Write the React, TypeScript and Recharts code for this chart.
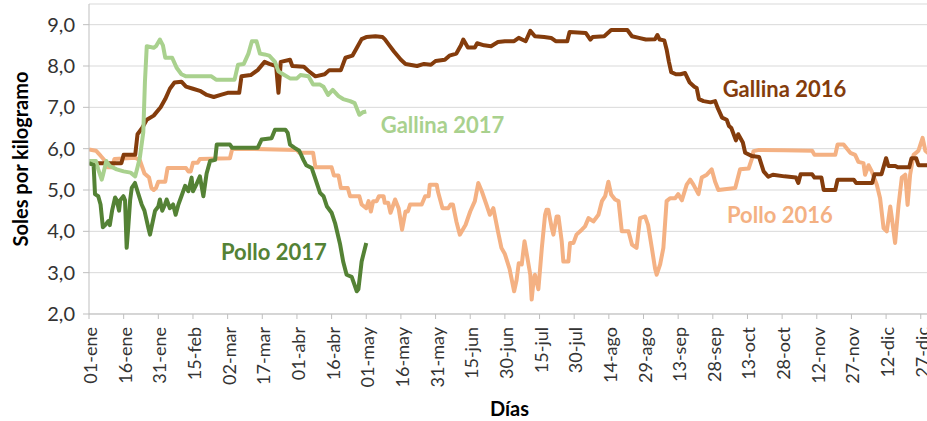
import React from "react";
import { CartesianGrid, Line, LineChart, ReferenceDot, XAxis, YAxis } from "recharts";

const FONT = 'Lato, "Open Sans", "DejaVu Sans", sans-serif';

// day of year (0 = 01-ene) and price in soles per kg
const gallina2016: [number, number][] = [
  [0, 5.65], [14, 5.65], [15, 5.85], [20, 5.85], [21, 6.35], [23, 6.5], [25, 6.7], [28, 6.8], [31, 7.0],
  [33, 7.2], [35, 7.45], [37, 7.6], [40, 7.62], [42, 7.5], [45, 7.45], [48, 7.4], [51, 7.3], [54, 7.25],
  [57, 7.3], [60, 7.35], [65, 7.35], [66, 7.75], [70, 7.78], [73, 7.9], [76, 8.1], [78, 8.05], [81, 8.0],
  [82, 7.35], [83, 8.1], [87, 8.15], [88, 8.0], [93, 7.98], [95, 7.88], [98, 7.75], [102, 7.8], [104, 7.9],
  [109, 7.9], [111, 8.2], [114, 8.25], [116, 8.45], [118, 8.65], [120, 8.7], [124, 8.72], [127, 8.7],
  [128, 8.65], [130, 8.5], [132, 8.35], [135, 8.15], [137, 8.05], [142, 8.0], [145, 8.05], [148, 8.03],
  [150, 8.12], [154, 8.15], [156, 8.25], [159, 8.3], [161, 8.5], [162, 8.64], [164, 8.45], [167, 8.45],
  [168, 8.55], [171, 8.5], [174, 8.48], [177, 8.58], [180, 8.6], [184, 8.6], [186, 8.68], [189, 8.6],
  [191, 8.85], [193, 8.72], [197, 8.7], [200, 8.68], [202, 8.6], [207, 8.6], [208, 8.82], [215, 8.8],
  [217, 8.64], [218, 8.7], [223, 8.72], [226, 8.87], [233, 8.87], [235, 8.72], [238, 8.68], [241, 8.64],
  [245, 8.65], [246, 8.75], [247, 8.64], [249, 8.62], [250, 8.4], [251, 8.1], [252, 7.85], [254, 7.8],
  [256, 7.8], [258, 7.83], [260, 7.6], [262, 7.5], [263, 7.47], [264, 7.2], [266, 7.15], [269, 7.12],
  [271, 7.15], [272, 7.0], [274, 6.75], [276, 6.7], [277, 6.55], [278, 6.5], [280, 6.2], [281, 6.35],
  [283, 6.15], [284, 5.9], [287, 5.82], [290, 5.8], [292, 5.45], [294, 5.32], [296, 5.37], [301, 5.33],
  [306, 5.3], [307, 5.17], [308, 5.38], [313, 5.38], [314, 5.3], [317, 5.3], [318, 5.0], [323, 5.0],
  [324, 5.25], [331, 5.25], [332, 5.17], [339, 5.17], [340, 5.38], [343, 5.38], [345, 5.77], [346, 5.58],
  [349, 5.58], [350, 5.55], [355, 5.55], [356, 5.77], [358, 5.77], [359, 5.6], [364, 5.6],
];

const pollo2016: [number, number][] = [
  [0, 5.98], [3, 5.95], [5, 5.83], [7, 5.7], [8, 5.55], [10, 5.55], [11, 5.75], [20, 5.78], [22, 5.72],
  [24, 5.4], [26, 5.3], [27, 5.05], [28, 5.0], [29, 5.05], [30, 5.2], [33, 5.2], [34, 5.53], [42, 5.53],
  [43, 5.45], [44, 5.45], [45, 5.66], [47, 5.66], [48, 5.75], [61, 5.77], [62, 6.0], [90, 5.97], [91, 5.9],
  [97, 5.9], [98, 5.55], [105, 5.55], [106, 5.35], [108, 5.35], [109, 5.05], [112, 5.05], [113, 4.85],
  [117, 4.85], [118, 4.65], [120, 4.56], [121, 4.73], [122, 4.48], [123, 4.73], [124.5, 4.73],
  [125.5, 4.85], [127.5, 4.85], [128, 4.69], [129.5, 4.69], [130.5, 4.45], [132.5, 4.77], [134, 4.56],
  [135.5, 4.04], [137, 4.48], [138, 4.48], [139, 4.65], [144, 4.65], [145.5, 4.85], [147, 4.85],
  [147.5, 5.13], [150.5, 5.13], [151, 4.97], [153, 4.56], [155.5, 4.56], [156.5, 4.65], [157.5, 4.65],
  [159, 4.24], [160.5, 3.92], [163, 4.16], [165, 4.48], [167, 4.73], [168.5, 5.17], [170, 4.97],
  [172, 4.65], [173.5, 4.4], [175, 4.56], [177, 4.0], [178.5, 3.6], [180, 3.45], [182, 3.1], [184, 2.55],
  [185, 2.8], [186, 3.23], [187.3, 3.2], [188.5, 3.76], [189.5, 3.44], [191, 2.95], [191.6, 2.35],
  [192.4, 2.8], [193, 2.95], [194.5, 2.6], [196, 3.6], [197.4, 4.4], [198, 4.52], [198.8, 4.52],
  [200.3, 4.08], [201, 3.92], [202.4, 4.36], [203.2, 4.36], [204.6, 3.76], [205.3, 3.27], [207.5, 3.27],
  [208.2, 3.72], [209.7, 3.72], [211, 3.92], [213.3, 4.04], [214.7, 4.12], [216.2, 4.32], [218.3, 4.24],
  [220.5, 4.4], [222, 4.73], [223.4, 4.85], [224.8, 5.2], [226, 4.89], [227.7, 4.77], [229.2, 4.73],
  [230.6, 4.0], [233.5, 4.0], [235, 3.68], [237, 3.6], [238.5, 4.32], [240.7, 4.36], [242, 4.15],
  [243.6, 3.6], [245, 3.1], [245.7, 2.95], [247.2, 3.2], [248.6, 3.6], [250, 4.73], [251.5, 4.8],
  [253.7, 4.8], [255, 4.9], [256.6, 4.75], [258.7, 5.13], [260.2, 5.25], [261.6, 5.13], [263.8, 4.9],
  [265.2, 5.3], [267.4, 5.37], [269.5, 5.5], [271, 5.2], [272.4, 5.0], [279.7, 5.05], [281.8, 5.5],
  [285.5, 5.52], [287, 5.77], [287.6, 5.94], [290, 5.97], [301, 5.96], [313, 5.95], [314, 5.85],
  [323, 5.85], [324, 6.1], [326.6, 6.1], [329.5, 5.9], [331.6, 5.85], [333, 5.68], [335.2, 5.65],
  [335.9, 5.37], [337.4, 5.6], [338.8, 5.45], [341, 5.12], [342.4, 4.8], [343.9, 4.08], [345.3, 4.0],
  [346.8, 4.6], [347.5, 4.32], [348.9, 3.72], [350.4, 4.64], [351.8, 5.3], [353.3, 5.37], [354.3, 4.64],
  [355.4, 5.37], [356.9, 5.85], [359, 5.95], [360.8, 6.26], [362, 5.95], [364, 5.85],
];

const gallina2017: [number, number][] = [
  [0, 5.7], [3, 5.7], [4, 5.5], [5.5, 5.25], [6, 5.35], [7.5, 5.7], [9, 5.58], [12, 5.5], [15, 5.45],
  [18, 5.42], [20, 5.33], [21, 5.55], [22, 5.78], [23.5, 6.4], [24.2, 7.6], [25, 8.48], [28, 8.44],
  [29, 8.48], [30.7, 8.64], [32, 8.5], [33, 8.2], [36, 8.2], [38, 7.95], [40, 7.8], [42, 7.75], [53, 7.75],
  [55, 7.67], [63, 7.67], [64.5, 8.03], [67, 8.05], [69, 8.3], [70.5, 8.6], [72.5, 8.6], [74, 8.3],
  [76, 8.28], [78, 8.25], [80.5, 8.1], [82, 7.87], [84, 7.8], [87, 7.7], [90, 7.7], [91.5, 7.78], [95, 7.75],
  [97, 7.55], [100, 7.55], [101.5, 7.5], [103.5, 7.3], [105.5, 7.42], [108, 7.27], [110, 7.2], [113, 7.15],
  [115, 7.1], [117, 6.82], [118.5, 6.88], [120, 6.9],
];

const pollo2017: [number, number][] = [
  [0, 5.65], [2, 5.6], [2.6, 4.9], [4, 4.85], [5, 4.65], [6, 4.1], [7, 4.15], [8.4, 4.25], [9, 4.15],
  [10, 4.5], [11.3, 4.82], [12, 4.75], [13, 4.5], [13.5, 4.75], [14.9, 4.85], [15.6, 4.75], [16.3, 3.6],
  [17, 4.1], [17.8, 4.75], [18.5, 5.05], [19.9, 5.17], [21, 4.97], [22.8, 4.65], [24, 4.5], [25.7, 4.08],
  [26.4, 3.92], [27, 4.08], [28.6, 4.5], [30, 4.6], [30.7, 4.77], [31.7, 4.5], [32.9, 4.65], [33.6, 4.77],
  [35, 4.56], [36.4, 4.65], [37.5, 4.4], [38.7, 4.65], [40, 4.85], [41.6, 5.1], [43, 4.97], [44.4, 5.3],
  [45, 4.97], [46.6, 5.15], [48, 5.33], [49.5, 4.85], [50.9, 5.4], [52.4, 5.7], [54.6, 5.73], [55.3, 6.1],
  [61, 6.1], [62, 6.02], [73, 6.02], [74.7, 6.22], [79, 6.25], [80.5, 6.46], [85, 6.46], [86, 6.38],
  [87, 6.1], [89, 6.02], [91, 5.95], [92.8, 5.73], [94, 5.6], [96.4, 5.53], [97.8, 5.3], [100, 4.93],
  [101.5, 4.85], [103, 4.6], [105, 4.45], [106.5, 4.2], [108.7, 3.68], [110, 3.27], [111.5, 2.95],
  [113.7, 2.9], [115.9, 2.55], [116.6, 2.6], [118, 3.27], [120, 3.72],
];

const tickDays = [0, 15, 30, 45, 60, 75, 90, 105, 120, 135, 150, 165, 180, 195, 210, 225, 240, 255, 270, 285, 300, 315, 330, 345, 360];
const tickLabels = [
  "01-ene", "16-ene", "31-ene", "15-feb", "02-mar", "17-mar", "01-abr", "16-abr", "01-may", "16-may",
  "31-may", "15-jun", "30-jun", "15-jul", "30-jul", "14-ago", "29-ago", "13-sep", "28-sep", "13-oct",
  "28-oct", "12-nov", "27-nov", "12-dic", "27-dic",
];
const yTicks = [2, 3, 4, 5, 6, 7, 8, 9];

const toPoints = (pairs: [number, number][]) => pairs.map(([day, value]) => ({ day, value }));

function DateTick({ x, y, payload }: any) {
  const label = tickLabels[tickDays.indexOf(payload.value)] ?? "";
  return (
    <text
      x={x + 1}
      y={y}
      transform={`rotate(-90 ${x + 1} ${y})`}
      textAnchor="end"
      dominantBaseline="central"
      fontSize={18}
      fontFamily={FONT}
      fill="#333"
    >
      {label}
    </text>
  );
}

function SeriesLabel({ x, y, text, color }: { x: number; y: number; text: string; color: string }) {
  return (
    <ReferenceDot
      key={text}
      x={x}
      y={y}
      r={0}
      ifOverflow="visible"
      label={{ value: text, position: "center", fill: color, fontSize: 22, fontWeight: 700, fontFamily: FONT }}
    />
  );
}

export default function App() {
  return (
    <div
      style={{ position: "absolute", left: 0, top: 0, width: 927, height: 421, overflow: "hidden", background: "#fff" }}
    >
      <LineChart width={940} height={421} margin={{ top: 4, right: 10, bottom: 0, left: 0 }}>
        <CartesianGrid vertical={false} stroke="#D9D9D9" />
        <XAxis
          type="number"
          dataKey="day"
          domain={[0, 364]}
          ticks={tickDays}
          interval={0}
          allowDataOverflow
          height={107}
          tickSize={5}
          tickMargin={8}
          tick={<DateTick />}
          axisLine={{ stroke: "#BFBFBF" }}
          tickLine={{ stroke: "#BFBFBF" }}
          label={{
            content: ({ viewBox }: any) => (
              <text
                x={viewBox.x + viewBox.width / 2}
                y={viewBox.y + 94}
                textAnchor="middle"
                dominantBaseline="central"
                fontSize={20}
                fontWeight={700}
                fontFamily={FONT}
                fill="#000"
              >
                Días
              </text>
            ),
          }}
        />
        <YAxis
          type="number"
          domain={[2, 9.5]}
          ticks={yTicks}
          interval={0}
          allowDataOverflow
          width={89}
          tickSize={6}
          tickMargin={8}
          tickFormatter={(v) => Number(v).toFixed(1).replace(".", ",")}
          tick={{ fontSize: 20, fontFamily: FONT, fill: "#333" }}
          axisLine={{ stroke: "#BFBFBF" }}
          tickLine={{ stroke: "#BFBFBF" }}
          label={{
            content: ({ viewBox }: any) => {
              const cx = viewBox.x + 20;
              const cy = viewBox.y + viewBox.height / 2;
              return (
                <text
                  x={cx}
                  y={cy}
                  transform={`rotate(-90 ${cx} ${cy})`}
                  textAnchor="middle"
                  dominantBaseline="central"
                  fontSize={20}
                  fontWeight={700}
                  fontFamily={FONT}
                  fill="#000"
                >
                  Soles por kilogramo
                </text>
              );
            },
          }}
        />
        <Line
          data={toPoints(pollo2016)}
          dataKey="value"
          name="Pollo 2016"
          type="linear"
          stroke="#F4B183"
          strokeWidth={4}
          strokeLinejoin="round"
          dot={false}
          isAnimationActive={false}
        />
        <Line
          data={toPoints(gallina2016)}
          dataKey="value"
          name="Gallina 2016"
          type="linear"
          stroke="#843C0C"
          strokeWidth={4}
          strokeLinejoin="round"
          dot={false}
          isAnimationActive={false}
        />
        <Line
          data={toPoints(gallina2017)}
          dataKey="value"
          name="Gallina 2017"
          type="linear"
          stroke="#A9D18E"
          strokeWidth={4}
          strokeLinejoin="round"
          dot={false}
          isAnimationActive={false}
        />
        <Line
          data={toPoints(pollo2017)}
          dataKey="value"
          name="Pollo 2017"
          type="linear"
          stroke="#548235"
          strokeWidth={4}
          strokeLinejoin="round"
          dot={false}
          isAnimationActive={false}
        />
        {SeriesLabel({ x: 301, y: 7.43, text: "Gallina 2016", color: "#843C0C" })}
        {SeriesLabel({ x: 299, y: 4.4, text: "Pollo 2016", color: "#F4B183" })}
        {SeriesLabel({ x: 153, y: 6.57, text: "Gallina 2017", color: "#A9D18E" })}
        {SeriesLabel({ x: 80, y: 3.5, text: "Pollo 2017", color: "#548235" })}
      </LineChart>
    </div>
  );
}
